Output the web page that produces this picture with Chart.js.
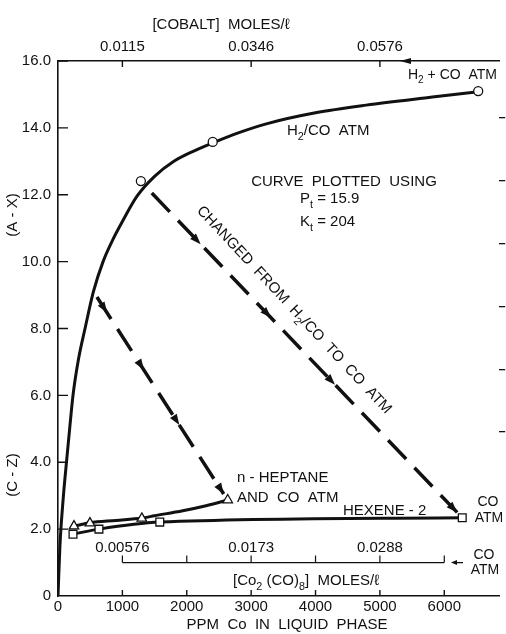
<!DOCTYPE html>
<html>
<head>
<meta charset="utf-8">
<script src="https://cdn.jsdelivr.net/npm/chart.js@4"></script>
<style>
  html, body { margin: 0; padding: 0; background: #fff; }
  canvas { display: block; }
</style>
</head>
<body>
<canvas id="chart" width="506" height="634"></canvas>
<script>
// ---- data (x = PPM Co in liquid phase) ----
// H2/CO atmosphere, fitted curve (A-X)
const h2coCurveX = [0, 30, 80, 135, 186, 233, 320, 420, 550, 700, 850, 1000, 1225, 1500, 1800, 2100, 2403, 2800, 3235, 4000, 4786, 5814, 6527];
const h2coCurveY = [0, 1.5, 2.9, 4.07, 5.1, 6.0, 7.1, 8.0, 9.1, 10.0, 10.65, 11.2, 11.95, 12.55, 13.0, 13.3, 13.55, 13.85, 14.12, 14.45, 14.68, 14.92, 15.08];
// measured points, open circles
const h2coPointX = [1287, 2403, 6527];
const h2coPointY = [12.41, 13.58, 15.1];

// n-heptane and CO atm, triangles + curve
const heptPointX = [248, 496, 1302, 2636];
const heptPointY = [2.09, 2.18, 2.32, 2.87];
const heptCurveX = [248, 496, 900, 1302, 1500, 1938, 2300, 2636];
const heptCurveY = [2.09, 2.19, 2.26, 2.33, 2.4, 2.55, 2.7, 2.87];

// hexene-2, squares
const hexPointX = [233, 636, 1581, 6279];
const hexPointY = [1.85, 2.0, 2.21, 2.34];

// dashed "changed from H2/CO to CO atm" arrows
const shiftArrowX = [1457, 6200];
const shiftArrowY = [12.05, 2.5];
const heptArrowX = [605, 2574];
const heptArrowY = [8.94, 3.05];

// axes
const xTickValues = [0, 1000, 2000, 3000, 4000, 5000, 6000];
const xTickLabels = ['0', '1000', '2000', '3000', '4000', '5000', '6000'];
const yTickValues = [0, 2, 4, 6, 8, 10, 12, 14, 16];
const yTickLabels = ['0', '2.0', '4.0', '6.0', '8.0', '10.0', '12.0', '14.0', '16.0'];
const topTickValues = [1000, 3000, 5000];
const topTickLabels = ['0.0115', '0.0346', '0.0576'];
const innerTickValues = [1000, 2000, 3000, 4000, 5000, 6000];
const innerLabelValues = [1000, 3000, 5000];
const innerTickLabels = ['0.00576', '0.0173', '0.0288'];
const rightTickValues = [4, 6, 8, 10, 12, 14];

const ink = '#111';
const FONT = "'Liberation Sans', Arial, sans-serif";

const pts = (xs, ys) => xs.map((x, i) => ({ x, y: ys[i] }));

// text with '_' prefixed pieces as subscripts
function drawRich(ctx, parts, x, y, size, align) {
    let w = 0;
    parts.forEach(p => {
        const sub = p.startsWith('_');
        ctx.font = `${sub ? size * 0.72 : size}px ${FONT}`;
        w += ctx.measureText(sub ? p.slice(1) : p).width;
    });
    let cx = align === 'center' ? x - w / 2 : align === 'right' ? x - w : x;
    ctx.textAlign = 'left';
    ctx.textBaseline = 'middle';
    parts.forEach(p => {
        const sub = p.startsWith('_');
        const t = sub ? p.slice(1) : p;
        ctx.font = `${sub ? size * 0.72 : size}px ${FONT}`;
        ctx.fillText(t, cx, sub ? y + size * 0.38 : y);
        cx += ctx.measureText(t).width;
    });
}

function arrowHead(ctx, x, y, ang, len, half) {
    ctx.save();
    ctx.translate(x, y);
    ctx.rotate(ang);
    ctx.beginPath();
    ctx.moveTo(0, 0);
    ctx.lineTo(-len, -half);
    ctx.lineTo(-len, half);
    ctx.closePath();
    ctx.fill();
    ctx.restore();
}

const decorations = {
    id: 'decorations',
    afterDraw(chart) {
        const { ctx, chartArea: a, scales: { x, y } } = chart;
        ctx.save();
        ctx.strokeStyle = ink;
        ctx.fillStyle = ink;
        ctx.lineWidth = 1.4;

        // inward tick marks
        ctx.beginPath();
        yTickValues.slice(1).forEach(v => {
            const py = y.getPixelForValue(v);
            ctx.moveTo(a.left, py); ctx.lineTo(a.left + 10, py);
        });
        xTickValues.slice(1).forEach(v => {
            const px = x.getPixelForValue(v);
            ctx.moveTo(px, a.bottom); ctx.lineTo(px, a.bottom - 6);
        });
        topTickValues.forEach(v => {
            const px = x.getPixelForValue(v);
            ctx.moveTo(px, a.top); ctx.lineTo(px, a.top + 6);
        });
        ctx.stroke();

        // arrow on the top axis
        arrowHead(ctx, 400, a.top, Math.PI, 11, 3);
        drawRich(ctx, ['H', '_2', ' + CO  ATM'], 408, 75, 14, 'left');

        // inner [Co2(CO)8] axis
        const iy = y.getPixelForValue(1.0);
        ctx.lineWidth = 1.2;
        ctx.beginPath();
        ctx.moveTo(x.getPixelForValue(innerTickValues[0]), iy);
        ctx.lineTo(x.getPixelForValue(innerTickValues[innerTickValues.length - 1]), iy);
        innerTickValues.forEach(v => {
            const px = x.getPixelForValue(v);
            ctx.moveTo(px, iy); ctx.lineTo(px, iy - 7);
        });
        ctx.moveTo(455, iy); ctx.lineTo(463, iy);
        ctx.stroke();
        arrowHead(ctx, 451, iy, Math.PI, 6, 2.5);
        innerLabelValues.forEach((v, i) => {
            drawRich(ctx, [innerTickLabels[i]], x.getPixelForValue(v), iy - 15, 15, 'center');
        });
        drawRich(ctx, ['[Co', '_2', ' (CO)', '_8', ']  MOLES/ℓ'], 233, 581, 15, 'left');
        drawRich(ctx, ['CO'], 484, 555, 14, 'center');
        drawRich(ctx, ['ATM'], 485, 570, 14, 'center');

        // dashed arrow heads
        [[shiftArrowX, shiftArrowY, [0.16, 0.39, 0.6, 1.0]],
         [heptArrowX, heptArrowY, [0.08, 0.37, 0.65, 1.0]]].forEach(([xs, ys, fr]) => {
            const x0 = x.getPixelForValue(xs[0]), y0 = y.getPixelForValue(ys[0]);
            const x1 = x.getPixelForValue(xs[1]), y1 = y.getPixelForValue(ys[1]);
            const ang = Math.atan2(y1 - y0, x1 - x0);
            fr.forEach(f => arrowHead(ctx, x0 + (x1 - x0) * f, y0 + (y1 - y0) * f, ang, 11, 4));
        });

        // annotations
        drawRich(ctx, ['H', '_2', '/CO  ATM'], 287, 131, 15, 'left');
        drawRich(ctx, ['CURVE  PLOTTED  USING'], 344, 182, 15, 'center');
        drawRich(ctx, ['P', '_t', ' = 15.9'], 300, 199, 15, 'left');
        drawRich(ctx, ['K', '_t', ' = 204'], 300, 222, 15, 'left');
        ctx.save();
        ctx.translate(294, 310);
        ctx.rotate(Math.atan2(205, 191));
        drawRich(ctx, ['CHANGED  FROM  H', '_2', '/CO  TO  CO  ATM'], 0, 0, 15, 'center');
        ctx.restore();
        drawRich(ctx, ['n - HEPTANE'], 237, 478, 15, 'left');
        drawRich(ctx, ['AND  CO  ATM'], 237, 498, 15, 'left');
        drawRich(ctx, ['HEXENE - 2'], 343, 511, 15, 'left');
        drawRich(ctx, ['CO'], 488, 502, 14, 'center');
        drawRich(ctx, ['ATM'], 489, 518, 14, 'center');

        // axis titles
        drawRich(ctx, ['[COBALT]  MOLES/ℓ'], 221, 25, 15, 'center');
        drawRich(ctx, ['PPM  Co  IN  LIQUID  PHASE'], 287, 625, 15, 'center');
        [['(A - X)', 215], ['(C - Z)', 475]].forEach(([t, cy]) => {
            ctx.save();
            ctx.translate(13, cy);
            ctx.rotate(-Math.PI / 2);
            drawRich(ctx, [t], 0, 0, 15, 'center');
            ctx.restore();
        });
        ctx.restore();
    },
};

const tickFont = { family: FONT, size: 15 };
const fixTicks = (vals) => (s) => { s.ticks = vals.map(v => ({ value: v })); };

new Chart(document.getElementById('chart'), {
    type: 'scatter',
    data: {
        datasets: [
            {
                data: pts(h2coPointX, h2coPointY),
                pointStyle: 'circle', pointRadius: 4.5,
                pointBackgroundColor: '#fff', pointBorderColor: ink, pointBorderWidth: 1.3,
                showLine: false,
            },
            {
                data: pts(heptPointX, heptPointY),
                pointStyle: 'triangle', pointRadius: 5.5,
                pointBackgroundColor: '#fff', pointBorderColor: ink, pointBorderWidth: 1.3,
                showLine: false,
            },
            {
                data: pts(hexPointX, hexPointY),
                pointStyle: 'rect', pointRadius: 5.5,
                pointBackgroundColor: '#fff', pointBorderColor: ink, pointBorderWidth: 1.3,
                showLine: true, borderColor: ink, borderWidth: 3,
                cubicInterpolationMode: 'monotone',
            },
            {
                data: pts(h2coCurveX, h2coCurveY),
                showLine: true, pointRadius: 0,
                borderColor: ink, borderWidth: 3,
                cubicInterpolationMode: 'monotone',
            },
            {
                data: pts(heptCurveX, heptCurveY),
                showLine: true, pointRadius: 0,
                borderColor: ink, borderWidth: 3,
                cubicInterpolationMode: 'monotone',
            },
            {
                data: pts(shiftArrowX, shiftArrowY),
                showLine: true, pointRadius: 0,
                borderColor: ink, borderWidth: 3.5, borderDash: [26, 12],
            },
            {
                data: pts(heptArrowX, heptArrowY),
                showLine: true, pointRadius: 0,
                borderColor: ink, borderWidth: 3.5, borderDash: [26, 12],
            },
        ],
    },
    options: {
        responsive: false,
        devicePixelRatio: 1,
        animation: false,
        layout: { padding: 0 },
        plugins: { legend: { display: false }, tooltip: { enabled: false } },
        scales: {
            x: {
                type: 'linear', position: 'bottom', min: 0, max: 6853,
                afterFit: s => { s.height = 38; },
                afterBuildTicks: fixTicks(xTickValues),
                grid: { display: false, drawTicks: false },
                border: { display: true, color: ink, width: 1.6 },
                ticks: { padding: 2, color: ink, font: tickFont, maxRotation: 0, autoSkip: false,
                         callback: (v, i) => xTickLabels[i] },
            },
            x2: {
                type: 'linear', position: 'top', min: 0, max: 6853,
                afterFit: s => { s.height = 61; },
                afterBuildTicks: fixTicks(topTickValues),
                grid: { display: false, drawTicks: false },
                border: { display: true, color: ink, width: 1.6 },
                ticks: { padding: 5, color: ink, font: tickFont, maxRotation: 0, autoSkip: false,
                         callback: (v, i) => topTickLabels[i] },
            },
            y: {
                type: 'linear', position: 'left', min: 0, max: 16,
                afterFit: s => { s.width = 58; },
                afterBuildTicks: fixTicks(yTickValues),
                grid: { display: false, drawTicks: false },
                border: { display: true, color: ink, width: 1.6 },
                ticks: { padding: 7, color: ink, font: tickFont, autoSkip: false,
                         callback: (v, i) => yTickLabels[i] },
            },
            y2: {
                type: 'linear', position: 'right', min: -1.22, max: 15.82,
                afterFit: s => { s.width = 6; },
                afterBuildTicks: fixTicks(rightTickValues),
                grid: { display: true, drawOnChartArea: false, drawTicks: true, tickLength: 6,
                        color: ink, lineWidth: 1.3 },
                border: { display: false },
                ticks: { display: false },
            },
        },
    },
    plugins: [decorations],
});
</script>
</body>
</html>
